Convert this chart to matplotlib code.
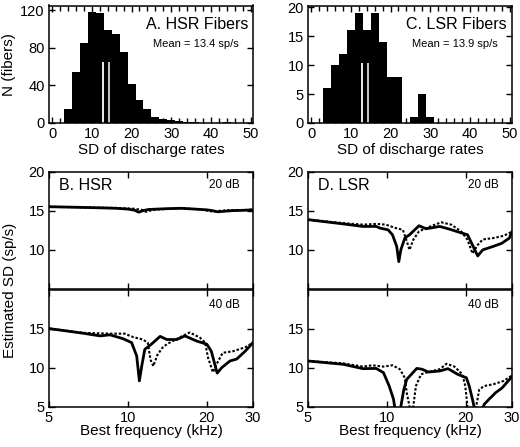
import numpy as np
import matplotlib.pyplot as plt
from matplotlib.ticker import FixedLocator, MultipleLocator, NullLocator, FuncFormatter

plt.rcParams['font.family'] = ['Liberation Sans', 'DejaVu Sans']

# Histogram data (bins of 2 sp/s, left edges)
hsr_left = np.arange(3, 45, 2)
hsr_counts = [15, 54, 85, 118, 117, 99, 95, 76, 42, 24, 15, 6, 4, 3, 2, 1, 1, 0, 0, 0, 1]
hsr_marks = [12.9, 14.2]
hsr_mark_h = 65
lsr_left = np.arange(3, 31, 2)
lsr_counts = [6, 10, 12, 16, 19, 16, 19, 14, 8, 8, 0, 1, 5, 1]
lsr_marks = [12.9, 14.25]
lsr_mark_h = 10.3

# B. HSR 20 dB
b20_f_solid = [5, 6, 7, 8, 9, 10, 10.6, 11.0, 11.4, 12, 13, 14, 16, 18, 20, 21, 22, 23, 25, 28, 30]
b20_solid = [15.5, 15.45, 15.4, 15.35, 15.3, 15.2, 15.05, 14.8, 15.0, 15.15, 15.2, 15.25, 15.3, 15.2,
             15.1, 15.0, 14.85, 14.9, 15.0, 15.05, 15.1]
b20_f_dot = [5, 7, 9, 10.5, 11.3, 11.7, 12.3, 13, 16, 19, 20.5, 21.2, 22, 24, 27, 30]
b20_dot = [15.5, 15.4, 15.35, 15.25, 15.1, 14.85, 15.05, 15.15, 15.3, 15.15, 14.95, 14.85, 14.95,
           15.05, 15.05, 15.15]

# B. HSR 40 dB
b40_f_solid = [5, 6.76, 7.83, 8.54, 9.59, 10.33, 10.8, 11.06, 11.29, 11.6, 12.29, 13.27, 14.07, 15.37,
               16.5, 18.3, 20.0, 20.8, 21.9, 22.8, 24.5, 26.0, 28.0, 30]
b40_solid = [15.0, 14.4, 14.06, 14.2, 13.7, 13.2, 11.5, 8.3, 10.2, 12.35, 13.0, 14.0, 13.6, 13.6,
             14.06, 13.4, 13.0, 12.1, 9.3, 10.0, 10.85, 11.1, 12.1, 13.2]
b40_f_dot = [5, 6.76, 8.54, 9.7, 10.5, 11.4, 11.9, 12.2, 12.5, 12.95, 13.5, 14.07, 15.4, 17.2,
             18.8, 19.7, 20.2, 21.1, 22.1, 23.0, 25.2, 28.0, 30]
b40_dot = [15.0, 14.45, 14.35, 14.35, 13.9, 13.6, 13.2, 11.0, 10.2, 11.6, 12.5, 13.0, 13.7, 14.5,
           13.85, 13.2, 11.3, 9.4, 10.85, 11.9, 12.1, 12.6, 13.2]

# D. LSR 20 dB
d20_f_solid = [5, 6.8, 8.1, 9.1, 9.4, 10.1, 10.5, 10.9, 11.1, 11.3, 11.7, 12.2, 13.25, 14.1, 15.9,
               17.3, 18.8, 20.3, 21.2, 22.2, 23.2, 25.4, 27.4, 29.3, 30]
d20_solid = [13.84, 13.3, 12.97, 12.97, 12.76, 12.54, 11.9, 10.4, 8.45, 9.96, 11.47, 11.9, 13.06,
             12.67, 12.97, 12.63, 12.24, 11.9, 10.6, 9.18, 9.96, 10.4, 10.8, 11.47, 12.3]
d20_f_dot = [5, 6.8, 8.1, 9.1, 9.9, 10.8, 11.5, 11.8, 12.2, 12.6, 13.25, 14.1, 16.1, 17.6, 19.2,
             20.3, 21.2, 22.2, 23.2, 25.4, 27.9, 30]
d20_dot = [13.84, 13.4, 13.2, 13.3, 13.2, 12.76, 12.54, 11.47, 9.96, 11.25, 12.33, 12.76, 13.5,
           13.2, 12.33, 11.25, 9.5, 10.6, 11.3, 11.47, 11.77, 12.3]

# D. LSR 40 dB (values under 5 fall below the axis)
d40_f_solid = [5, 6.8, 8.1, 9.1, 9.7, 10.2, 10.6, 10.7, 11.0, 11.3, 11.6, 11.9, 12.4, 13.0, 13.6,
               14.4, 15.9, 17.1, 18.6, 20.1, 20.6, 21.2, 21.5, 22.3, 23.2, 23.5, 24.5, 26.0, 27.5, 30]
d40_solid = [10.85, 10.43, 9.87, 9.9, 9.36, 7.65, 5.94, 5.0, 2.5, 5.0, 7.2, 8.5, 9.15, 9.9, 9.8,
             9.44, 9.57, 9.87, 9.15, 8.7, 7.65, 5.94, 5.0, 2.5, 4.8, 5.3, 5.94, 6.8, 7.4, 8.85]
d40_f_dot = [5, 6.8, 8.1, 8.8, 9.7, 10.5, 11.2, 11.7, 11.9, 12.2, 12.4, 12.6, 12.9, 13.5, 14.4,
             15.9, 16.9, 18.1, 19.4, 19.9, 20.3, 21.1, 21.9, 22.5, 23.5, 25.4, 27.9, 30]
d40_dot = [10.85, 10.55, 10.13, 10.3, 10.13, 10.3, 9.8, 8.7, 6.8, 5.0, 2.5, 5.0, 7.65, 9.15, 9.44,
           9.8, 10.5, 10.13, 9.15, 7.65, 5.0, 2.5, 5.0, 7.2, 7.65, 7.86, 8.3, 9.0]

W, H = 520, 447
fig = plt.figure(figsize=(W / 100, H / 100), dpi=100)


def px_axes(left, top, right, bottom):
    return fig.add_axes([left / W, 1 - bottom / H, (right - left) / W, (bottom - top) / H])


def style(ax):
    for s in ax.spines.values():
        s.set_linewidth(1.1)
    ax.tick_params(which='both', direction='in', top=True, right=True, width=1.0,
                   labelsize=10.5, pad=3)
    ax.tick_params(which='major', length=4.5)
    ax.tick_params(which='minor', length=3.5)


def histogram(ax, left, counts, marks, mark_h, ymax, yticks, title, mean_txt):
    ax.bar(left, counts, width=2, align='edge', color='black', linewidth=0)
    ax.vlines(marks[0], 0, mark_h, colors='white', lw=1.3)
    ax.vlines(marks[1], 0, mark_h, colors='#d8d8d8', lw=1.3)
    ax.set_xlim(-0.8, 50.6)
    ax.set_ylim(0, ymax)
    ax.xaxis.set_major_locator(MultipleLocator(10))
    ax.xaxis.set_minor_locator(MultipleLocator(2))
    ax.yaxis.set_major_locator(FixedLocator(yticks))
    ax.yaxis.set_minor_locator(NullLocator())
    style(ax)
    ax.set_xlabel('SD of discharge rates', fontsize=11, labelpad=1)
    ax.text(0.975, 0.835, title, transform=ax.transAxes, ha='right', va='center', fontsize=11.5)
    ax.text(0.72, 0.67, mean_txt, transform=ax.transAxes, ha='center', va='center', fontsize=8)


axA = px_axes(49, 5.5, 253, 123)
histogram(axA, hsr_left, hsr_counts, hsr_marks, hsr_mark_h, 125, [0, 40, 80, 120],
          'A. HSR Fibers', 'Mean = 13.4 sp/s')
axC = px_axes(308, 5.5, 512, 123)
histogram(axC, lsr_left, lsr_counts, lsr_marks, lsr_mark_h, 20.3, [0, 5, 10, 15, 20],
          'C. LSR Fibers', 'Mean = 13.9 sp/s')
axA.set_ylabel('N (fibers)', fontsize=11, labelpad=3)


def sd_panel(ax, fs, s, fd, d, upper, level, label=None):
    ax.plot(fs, s, color='black', lw=2.0, solid_joinstyle='round')
    ax.plot(fd, d, color='black', lw=1.5, linestyle=(0, (1.2, 0.9)))
    ax.set_xscale('log')
    ax.set_xlim(5, 30)
    ax.set_ylim(5, 20)
    ax.xaxis.set_major_locator(FixedLocator([5, 10, 20, 30]))
    ax.xaxis.set_minor_locator(NullLocator())
    ax.xaxis.set_major_formatter(FuncFormatter(lambda v, p: '%d' % v))
    ax.yaxis.set_minor_locator(NullLocator())
    style(ax)
    if upper:
        ax.yaxis.set_major_locator(FixedLocator([10, 15, 20]))
        ax.tick_params(labelbottom=False)
        ty = 0.886
    else:
        ax.yaxis.set_major_locator(FixedLocator([5, 10, 15]))
        ax.set_xlabel('Best frequency (kHz)', fontsize=11, labelpad=-0.5)
        ty = 0.868
    ax.text(0.935, ty, level, transform=ax.transAxes, ha='right', va='center', fontsize=8.5)
    if label:
        ax.text(0.05, 0.886, label, transform=ax.transAxes, ha='left', va='center', fontsize=11.5)


axB1 = px_axes(49, 171.7, 253, 288.5)
sd_panel(axB1, b20_f_solid, b20_solid, b20_f_dot, b20_dot, True, '20 dB', 'B. HSR')
axB2 = px_axes(49, 289.5, 253, 406.7)
sd_panel(axB2, b40_f_solid, b40_solid, b40_f_dot, b40_dot, False, '40 dB')
axD1 = px_axes(308, 171.7, 512, 288.5)
sd_panel(axD1, d20_f_solid, d20_solid, d20_f_dot, d20_dot, True, '20 dB', 'D. LSR')
axD2 = px_axes(308, 289.5, 512, 406.7)
sd_panel(axD2, d40_f_solid, d40_solid, d40_f_dot, d40_dot, False, '40 dB')

fig.text(10 / W, 1 - 290 / H, 'Estimated SD (sp/s)', rotation=90, ha='center', va='center', fontsize=11)

fig.savefig('out.png', dpi=100)
